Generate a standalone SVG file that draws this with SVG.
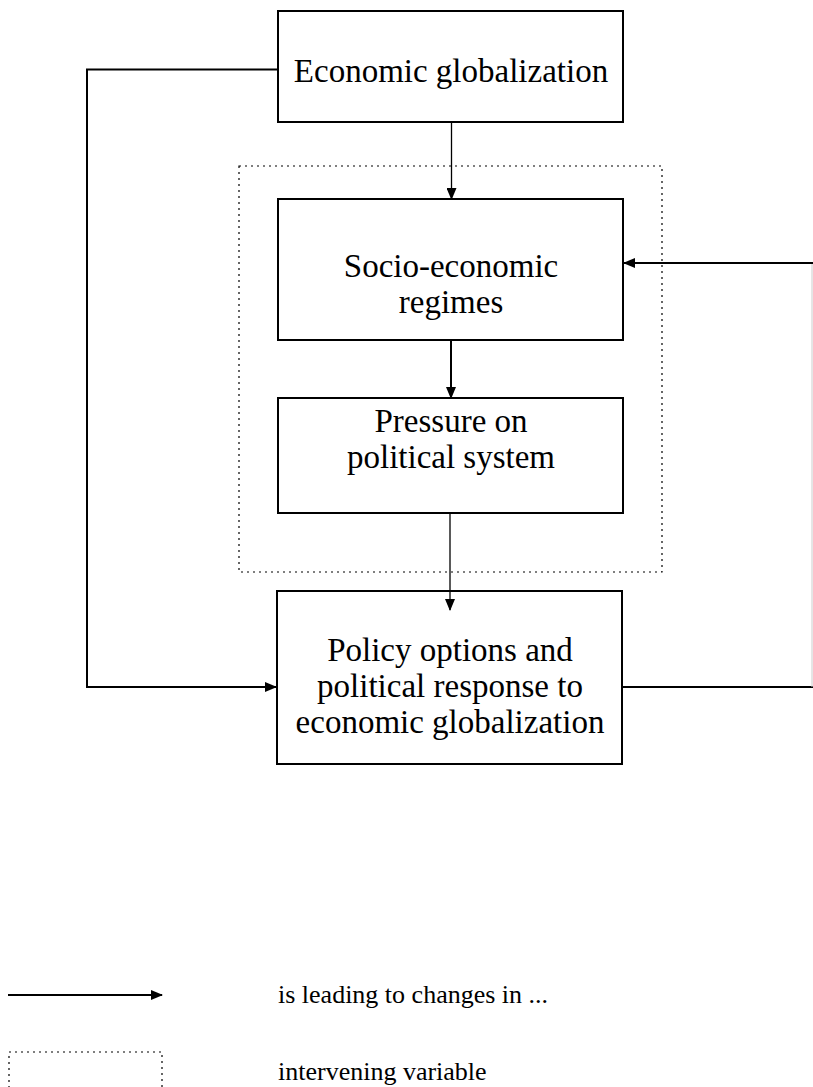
<svg xmlns="http://www.w3.org/2000/svg" width="813" height="1087" viewBox="0 0 813 1087">
<style>
.box{fill:#fff;stroke:#000;stroke-width:2}
.dot{fill:none;stroke:#000;stroke-width:1.2;stroke-dasharray:2,4}
.lbl{font-family:"Liberation Serif","Times New Roman",serif;font-size:33px;fill:#000;text-anchor:middle}
.leg{font-family:"Liberation Serif","Times New Roman",serif;font-size:26px;fill:#000}
.c{fill:none;stroke:#000;stroke-width:2}
.t{fill:none;stroke:#000;stroke-width:1.3}
</style>
<defs>
<marker id="ah" markerWidth="12" markerHeight="10" refX="11" refY="5" orient="auto" markerUnits="userSpaceOnUse">
<path d="M0,0 L12,5 L0,10 Z" fill="#000"/>
</marker>
</defs>
<rect id="intervening" class="dot" x="239" y="166" width="423" height="406"/>
<g id="economic-globalization">
<rect class="box" x="278" y="11" width="345" height="111"/>
<text class="lbl" x="451" y="82">Economic globalization</text>
</g>
<g id="socio-economic-regimes">
<rect class="box" x="278" y="199" width="345" height="141"/>
<text class="lbl" x="451" y="277">Socio-economic</text>
<text class="lbl" x="451" y="313">regimes</text>
</g>
<g id="pressure">
<rect class="box" x="278" y="398" width="345" height="115"/>
<text class="lbl" x="451" y="432">Pressure on</text>
<text class="lbl" x="451" y="468">political system</text>
</g>
<g id="policy">
<rect class="box" x="277" y="591" width="345" height="173"/>
<text class="lbl" x="450" y="661">Policy options and</text>
<text class="lbl" x="450" y="697">political response to</text>
<text class="lbl" x="450" y="733">economic globalization</text>
</g>
<g id="connectors">
<path class="c" d="M278,69.5 H87 V687 H276" marker-end="url(#ah)"/>
<path class="t" d="M451.5,122 V199" marker-end="url(#ah)"/>
<path class="c" d="M451,340 V398" marker-end="url(#ah)"/>
<path class="t" d="M450,513 V610" marker-end="url(#ah)"/>
<path class="c" d="M622,687 H813"/>
<path d="M812,263 V687" stroke="#ccc" stroke-width="1" fill="none"/>
<path class="c" d="M813,263 H624" marker-end="url(#ah)"/>
</g>
<g id="legend">
<path class="c" d="M8,995 H162" marker-end="url(#ah)"/>
<text class="leg" x="278" y="1003">is leading to changes in ...</text>
<rect class="dot" x="9" y="1052" width="153" height="60"/>
<text class="leg" x="278" y="1080">intervening variable</text>
</g>
</svg>
